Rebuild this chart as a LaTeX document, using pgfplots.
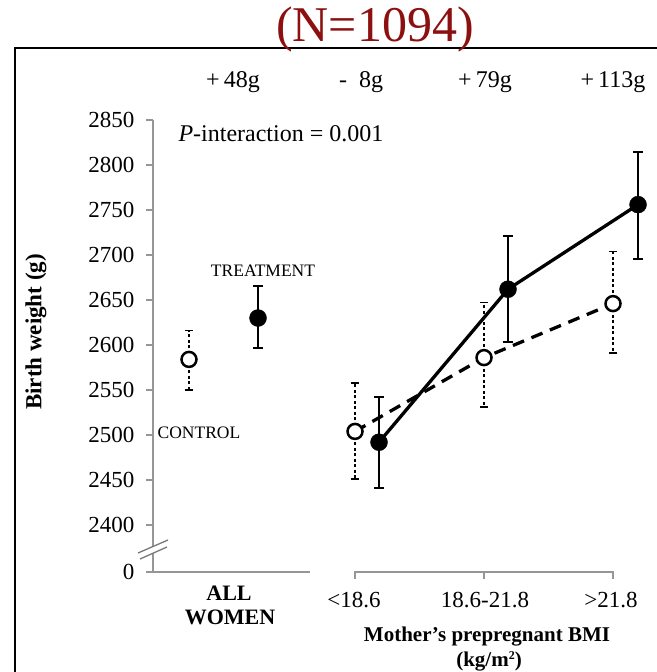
\documentclass[border=0pt]{standalone}
\usepackage{fontspec}
\setmainfont{Liberation Serif}
\usepackage{pgfplots}
\pgfplotsset{compat=1.18}
\definecolor{axisgray}{RGB}{150,150,150}
\definecolor{titlered}{RGB}{140,16,16}
\newcommand\fs[1]{\fontsize{#1bp}{#1bp}\selectfont}
\begin{document}
\begin{tikzpicture}
\useasboundingbox (0,0) rectangle (657bp,-672bp);
% frame
\draw[line width=2.5bp] (15bp,-672bp) -- (15bp,-48bp) -- (657bp,-48bp);
\node[text=titlered, font=\fs{50}, anchor=base] at (375bp,-41bp) {(N=1094)};
\begin{axis}[
  at={(153bp,-572bp)}, anchor=south west,
  width=492bp, height=452bp, scale only axis,
  xmin=0.434, xmax=4.248,
  ymin=2347.8, ymax=2850,
  clip=false,
  axis x line=none,
  axis y line*=left,
  y axis line style={axisgray, line width=1.2bp},
  ytick={2347.8,2400,2450,2500,2550,2600,2650,2700,2750,2800,2850},
  yticklabels={0,2400,2450,2500,2550,2600,2650,2700,2750,2800,2850},
  tick align=outside, major tick length=7bp,
  tick style={axisgray, line width=1.2bp},
  /pgf/number format/assume math mode=true,
  yticklabel style={font=\fs{23}, xshift=-8bp},
]
% broken x axis
\draw[axisgray, line width=1.2bp] (axis cs:0.434,2347.8) -- (axis cs:1.651,2347.8);
\draw[axisgray, line width=1.2bp] (axis cs:2,2340) -- (axis cs:2,2347.8) -- (axis cs:4,2347.8) -- (axis cs:4,2340);
\draw[axisgray, line width=1.2bp] (axis cs:3,2347.8) -- (axis cs:3,2340);
% connecting lines
\addplot[black, line width=3.3bp, no marks] coordinates {(2.186,2492) (3.186,2662) (4.194,2756)};
\addplot[black, line width=3.3bp, dash pattern=on 12bp off 8bp, no marks] coordinates {(2,2504) (3,2586) (4,2646)};
% control
\addplot[black, only marks, mark=*, mark size=7.5bp, mark options={fill=white, draw=black, line width=2.5bp, solid},
  error bars/.cd, y dir=both, y explicit,
  error bar style={line width=1.5bp, dash pattern=on 3bp off 2.5bp},
  error mark=-,
  error mark options={rotate=90, line width=1.5bp, mark size=4bp, solid}]
  coordinates {
  (0.713,2584) += (0,32) -= (0,34)
  (2,2504) += (0,54) -= (0,53)
  (3,2586) += (0,61) -= (0,55)
  (4,2646) += (0,58) -= (0,55)
  };
% treatment
\addplot[black, only marks, mark=*, mark size=8.5bp, mark options={fill=black, draw=black, solid},
  error bars/.cd, y dir=both, y explicit,
  error bar style={line width=2bp},
  error mark=-,
  error mark options={rotate=90, line width=2bp, mark size=5bp}]
  coordinates {
  (1.248,2630) += (0,36) -= (0,33)
  (2.186,2492) += (0,50) -= (0,51)
  (3.186,2662) += (0,59) -= (0,59)
  (4.194,2756) += (0,59) -= (0,60)
  };
\end{axis}
% axis break
\fill[white] (138bp,-553bp) -- (168bp,-540bp) -- (167bp,-547bp) -- (140bp,-559bp) -- cycle;
\draw[axisgray!80!black, line width=1.3bp] (138bp,-553bp) -- (168bp,-540bp);
\draw[axisgray!80!black, line width=1.3bp] (140bp,-559bp) -- (167bp,-547bp);
% differences
\node[font=\fs{24}, anchor=base] at (233bp,-87bp) {+\,48g};
\node[font=\fs{24}, anchor=base] at (361bp,-87bp) {-~~8g};
\node[font=\fs{24}, anchor=base] at (485bp,-87bp) {+\,79g};
\node[font=\fs{24}, anchor=base] at (613bp,-87bp) {+\,113g};
\node[font=\fs{24}, anchor=base west] at (175bp,-141bp) {\textit{P}-interaction = 0.001};
\node[font=\fs{17.5}, anchor=base] at (263bp,-276bp) {TREATMENT};
\node[font=\fs{17.5}, anchor=base] at (199bp,-438bp) {CONTROL};
% y label
\node[font=\fs{23}\bfseries, rotate=90] at (36bp,-332bp) {Birth weight (g)};
% x labels
\node[font=\fs{22}\bfseries, anchor=base] at (229bp,-600bp) {ALL};
\node[font=\fs{22}\bfseries, anchor=base] at (230bp,-624bp) {WOMEN};
\node[font=\fs{23}, anchor=base] at (354bp,-607bp) {<18.6};
\node[font=\fs{23}, anchor=base] at (485bp,-607bp) {18.6-21.8};
\node[font=\fs{23}, anchor=base] at (611bp,-607bp) {>21.8};
\node[font=\fs{21}\bfseries, anchor=base] at (487bp,-641bp) {Mother’s prepregnant BMI};
\node[font=\fs{21}\bfseries, anchor=base] at (489bp,-666bp) {(kg/m\raisebox{0.3em}{\fs{12}\bfseries 2})};
\end{tikzpicture}
\end{document}
